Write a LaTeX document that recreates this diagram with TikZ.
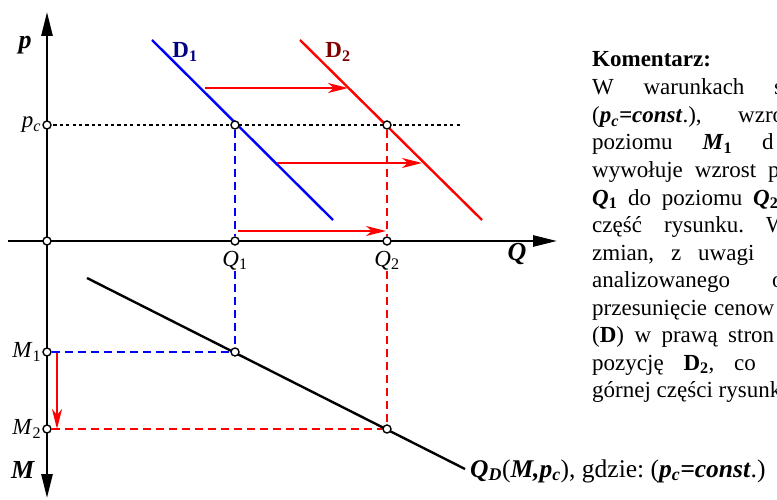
\documentclass[tikz,border=0pt]{standalone}
\usepackage{fontspec}
\setmainfont{Liberation Serif}
\usetikzlibrary{arrows.meta,positioning,calc}
\definecolor{dnavy}{RGB}{0,0,128}
\definecolor{dmaroon}{RGB}{128,0,0}
\newcommand{\bi}[1]{\textbf{\textit{#1}}}
\newcommand{\lo}[1]{\textsubscript{#1}}
\newcommand{\spr}[2]{\makebox[#1pt][s]{#2\ }}
\frenchspacing

\begin{document}
\begin{tikzpicture}[x=1pt,y=-1pt]
\tikzset{
  axis/.style={line width=2.6pt,-{Triangle[length=24pt,width=11pt]}},
  pt/.style={circle,draw,fill=white,line width=1.4pt,minimum size=8pt,inner sep=0pt},
  lab/.style={font=\fontsize{23}{27}\selectfont,inner sep=1pt},
  big/.style={font=\fontsize{26}{30}\selectfont,inner sep=1pt},
  move/.style={red,line width=2.4pt,-{Stealth[length=20pt,width=10pt,inset=6pt]}},
  guide/.style={line width=1.6pt,dash pattern=on 8pt off 5pt},
  curve/.style={line width=2.4pt},
  txt/.style={font=\fontsize{23}{27}\selectfont,anchor=base west,inner sep=0pt},
}
\useasboundingbox (0,0) rectangle (777,500);

% axes
\coordinate (o) at (47,241);
\coordinate (ptop) at (47,12);
\coordinate (mbot) at (47,498);
\coordinate (qbeg) at (8,241);
\coordinate (qend) at (557,241);
\draw[axis] (o) -- (ptop);
\draw[axis] (o) -- (mbot);
\draw[axis] (qbeg) -- (qend);

% price level
\coordinate (pcl) at (47,125);
\coordinate (pcr) at (460,125);
\draw[line width=2.2pt,dash pattern=on 3.2pt off 3.2pt] (pcl) -- (pcr);

% demand curves
\coordinate (d1a) at (152,40);
\coordinate (d1b) at (333,220);
\coordinate (d2a) at (300,40);
\coordinate (d2b) at (482,220);
\draw[curve,blue] (d1a) -- (d1b);
\draw[curve,red] (d2a) -- (d2b);

% Engel line
\coordinate (ea) at (87,278);
\coordinate (eb) at (465,469);
\draw[curve] (ea) -- (eb);

% points
\node[pt] (c0) at (o) {};
\node[pt] (pc) at (pcl) {};
\node[pt] (e1) at (235,125) {};
\node[pt] (e2) at (387,125) {};
\node[pt] (q1) at (235,241) {};
\node[pt] (q2) at (387,241) {};
\node[pt] (m1) at (47,352) {};
\node[pt] (m2) at (47,429) {};
\node[pt] (f1) at (235,352) {};
\node[pt] (f2) at (387,429) {};

% labels
\node[big] (plab) at (25,45) {\bi{p}};
\node[lab,anchor=east] (pclab) at (pc.west) {\textit{p}\lo{\textit{c}}};
\node[lab,text=dnavy] (d1lab) at (185,52) {\textbf{D\lo{1}}};
\node[lab,text=dmaroon] (d2lab) at (338,52) {\textbf{D\lo{2}}};
\node[lab,below=4pt of q1] (q1lab) {\textit{Q}\lo{1}};
\node[lab,below=4pt of q2] (q2lab) {\textit{Q}\lo{2}};
\node[big] (qlab) at (517,254) {\bi{Q}};
\node[lab,anchor=east] (m1lab) at (m1.west) {\textit{M}\lo{1}};
\node[lab,anchor=east] (m2lab) at (m2.west) {\textit{M}\lo{2}};
\node[big] (mlab) at (23,470) {\bi{M}};
\node[font=\fontsize{25.5}{30}\selectfont,anchor=base west,inner sep=0pt] (qd) at (470,477)
  {\bi{Q\lo{D}}(\bi{M,p\lo{c}}), gdzie: (\bi{p\lo{c}=const}.)};

% projections
\draw[guide,blue] (e1) -- (q1);
\draw[guide,blue] (q1lab) -- (f1);
\draw[guide,blue] (m1) -- (f1);
\draw[guide,red] (e2) -- (q2);
\draw[guide,red] (q2lab) -- (f2);
\draw[guide,red] (m2) -- (f2);

% shifts
\coordinate (a1) at (205,88);
\coordinate (a2) at (348,88);
\coordinate (b1) at (277,163);
\coordinate (b2) at (422,163);
\coordinate (s1) at (238,231);
\coordinate (s2) at (386,231);
\coordinate (ma) at (57,353);
\coordinate (mb) at (57,429);
\draw[move] (a1) -- (a2);
\draw[move] (b1) -- (b2);
\draw[move] (s1) -- (s2);
\draw[move] (ma) -- (mb);

% comment
\begin{scope}
\clip (0,0) rectangle (777,500);
\node[txt] (k0) at (592,67) {\textbf{Komentarz:}};
\node[txt] (k1) at (592,95) {\spr{182}{W warunkach}s};
\node[txt] (k2) at (592,122.5) {\spr{146}{(\bi{p\lo{c}=const}.),}wzro};
\node[txt] (k3) at (592,150) {\spr{170}{poziomu \bi{M}\lo{\textbf{1}}}d};
\node[txt] (k4) at (592,177.5) {\spr{176}{wywołuje wzrost}p};
\node[txt] (k5) at (592,205) {\spr{161}{\bi{Q}\lo{\textbf{1}} do poziomu}\bi{Q}\lo{\textbf{2}}};
\node[txt] (k6) at (592,232.5) {\spr{174}{część rysunku.}W};
\node[txt] (k7) at (592,260) {\spr{106}{zmian, z}uwagi};
\node[txt] (k8) at (592,287.5) {\spr{180}{analizowanego}o};
\node[txt] (k9) at (592,315) {\spr{122}{przesunięcie}cenow};
\node[txt] (k10) at (592,342.5) {\spr{136}{(\textbf{D}) w prawą}stron};
\node[txt] (k11) at (592,370) {\spr{142}{pozycję \textbf{D\lo{2}},}co};
\node[txt] (k12) at (592,397.5) {górnej części rysunk};
\end{scope}
\end{tikzpicture}
\end{document}
